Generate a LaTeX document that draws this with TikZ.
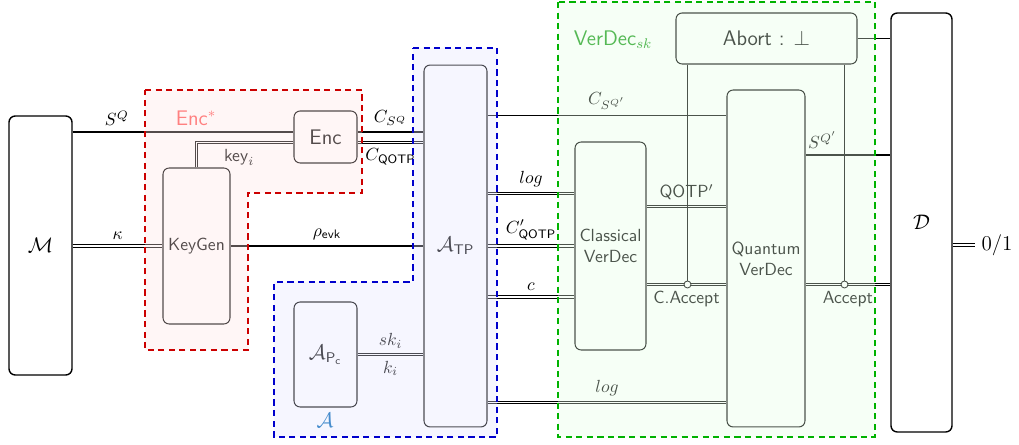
\documentclass[tikz,border=0pt]{standalone}
\usetikzlibrary{calc,positioning}
\definecolor{encred}{RGB}{255,128,128}
\definecolor{advblue}{RGB}{70,140,205}
\definecolor{vergreen}{RGB}{85,185,85}
\begin{document}
\begin{tikzpicture}[x=0.02cm,y=-0.02cm,
    every node/.style={font=\sffamily},
    box/.style={draw,rounded corners=3.5pt,line width=0.6pt,fill=white,inner sep=1pt,align=center},
    qw/.style={line width=0.7pt},
    cw/.style={double,double distance=1.1pt,line width=0.55pt},
    dot/.style={circle,draw,fill=white,inner sep=0pt,minimum size=0.14cm,line width=0.5pt},
    region/.style={dash pattern=on 3.5pt off 2.5pt,line width=0.6pt,fill opacity=0.33}]
  \useasboundingbox (0,0) rectangle (1019,445);

  \node [box,line width=0.8pt,minimum width=1.26cm,minimum height=5.18cm] (M) at (40.5,245.5) {\large$\mathcal{M}$};
  \node [box,minimum width=1.34cm,minimum height=3.12cm] (KeyGen) at (196.5,246) {KeyGen};
  \node [box,minimum width=1.26cm,minimum height=1.04cm,font=\sffamily\large] (Enc) at (325.5,137) {Enc};
  \node [box,minimum width=1.26cm,minimum height=2.1cm] (APc) at (325.5,354.5) {\large$\mathcal{A}_{\mathsf{P_c}}$};
  \node [box,minimum width=1.26cm,minimum height=7.24cm] (ATP) at (455.5,246) {\large$\mathcal{A}_{\mathsf{TP}}$};
  \node [box,minimum width=1.42cm,minimum height=4.16cm] (CV) at (610.5,246) {Classical\\VerDec};
  \node [box,minimum width=1.56cm,minimum height=6.74cm] (QV) at (766,258.5) {Quantum\\VerDec};
  \node [box,minimum width=3.62cm,minimum height=1.02cm,font=\sffamily\large] (Abort) at (766.5,38.5) {Abort : $\bot$};
  \node [box,line width=0.8pt,minimum width=1.22cm,minimum height=8.38cm] (D) at (921.5,222.5) {\large$\mathcal{D}$};
  \node (out) at (997,245) {\large$0/1$};

  % ports
  \coordinate (encA) at ($(Enc.west)+(0,-5)$);
  \coordinate (encB) at ($(Enc.west)+(0,5.5)$);
  \coordinate (encC) at ($(Enc.east)+(0,-5)$);
  \coordinate (encD) at ($(Enc.east)+(0,5.5)$);
  \coordinate (qvA) at ($(QV.north west)+(0,26)$);
  \coordinate (qvB) at ($(QV.south west)+(0,-25)$);
  \coordinate (cvA) at ($(CV.west)+(0,-52.5)$);
  \coordinate (cvC) at ($(CV.west)+(0,51)$);
  \coordinate (cvQ) at ($(CV.east)+(0,-39.5)$);
  \coordinate (cvX) at ($(CV.east)+(0,38.5)$);
  \coordinate (qvS) at ($(QV.east)+(0,-103.5)$);
  \coordinate (qvX) at ($(QV.east)+(0,26)$);
  \coordinate (abL) at ($(Abort.south west)+(12,0)$);
  \coordinate (abR) at ($(Abort.south east)+(-13,0)$);

  \draw[qw] (M.east |- encA) -- node[above,pos=0.2] {$S^Q$} (encA);
  \draw[cw] (M.east |- KeyGen.west) -- node[above] {$\kappa$} (KeyGen.west);
  \draw[cw] (KeyGen.north) |- node[below,pos=0.72] {$\mathsf{key}_i$} (encB);
  \draw[qw] (KeyGen.east) -- node[above] {$\rho_{\mathsf{evk}}$} (KeyGen.east -| ATP.west);
  \draw[qw] (encC) -- node[above] {$C_{S^Q}$} (encC -| ATP.west);
  \draw[cw] (encD) -- node[below] {$C_{\mathsf{QOTP}}$} (encD -| ATP.west);
  \draw[cw] (APc.east) -- node[above] {$sk_i$} node[below] {$k_i$} (APc.east -| ATP.west);

  \draw[qw] (ATP.east |- qvA) -- node[above] {$C_{S^{Q'}}$} (qvA);
  \draw[cw] (ATP.east |- cvA) -- node[above] {$log$} (cvA);
  \draw[cw] (ATP.east |- CV.west) -- node[above] {$C'_{\mathsf{QOTP}}$} (CV.west);
  \draw[cw] (ATP.east |- cvC) -- node[above] {$c$} (cvC);
  \draw[cw] (ATP.east |- qvB) -- node[above] {$log$} (qvB);

  \draw[cw] (cvQ) -- node[above] {QOTP$'$} (cvQ -| QV.west);
  \draw[cw] (cvX) -- node[below] {C.Accept} (cvX -| QV.west);
  \draw[qw] (qvS) -- node[above,pos=0.2] {$S^{Q'}$} (qvS -| D.west);
  \draw[cw] (qvX) -- node[below] {Accept} (qvX -| D.west);
  \draw[qw] (Abort.east) -- (Abort.east -| D.west);
  \draw[cw] (D.east |- out.west) -- (out.west);

  \node[dot] (cacc) at (abL |- cvX) {};
  \node[dot] (acc) at (abR |- qvX) {};
  \draw[qw] (abL) -- (cacc.north);
  \draw[qw] (abR) -- (acc.north);

  % regions
  \path[region,fill=red!10,draw=red!80!black] (145,90) -- (362,90) -- (362,193) -- (248,193) -- (248,350) -- (145,350) -- cycle;
  \path[region,fill=blue!10,draw=blue!80!black] (413,48) -- (497,48) -- (497,437) -- (274,437) -- (274,282) -- (413,282) -- cycle;
  \path[region,fill=green!10,draw=green!70!black] (558,2) rectangle (875,437);

  \node[text=encred,font=\sffamily\large] (encstar) at (196,118) {Enc$^*$};
  \node[text=advblue,font=\sffamily\large] (adv) at (325,420) {$\mathcal{A}$};
  \node[text=vergreen,font=\sffamily\large] (verdec) at (613,40) {VerDec$_{sk}$};
\end{tikzpicture}
\end{document}
